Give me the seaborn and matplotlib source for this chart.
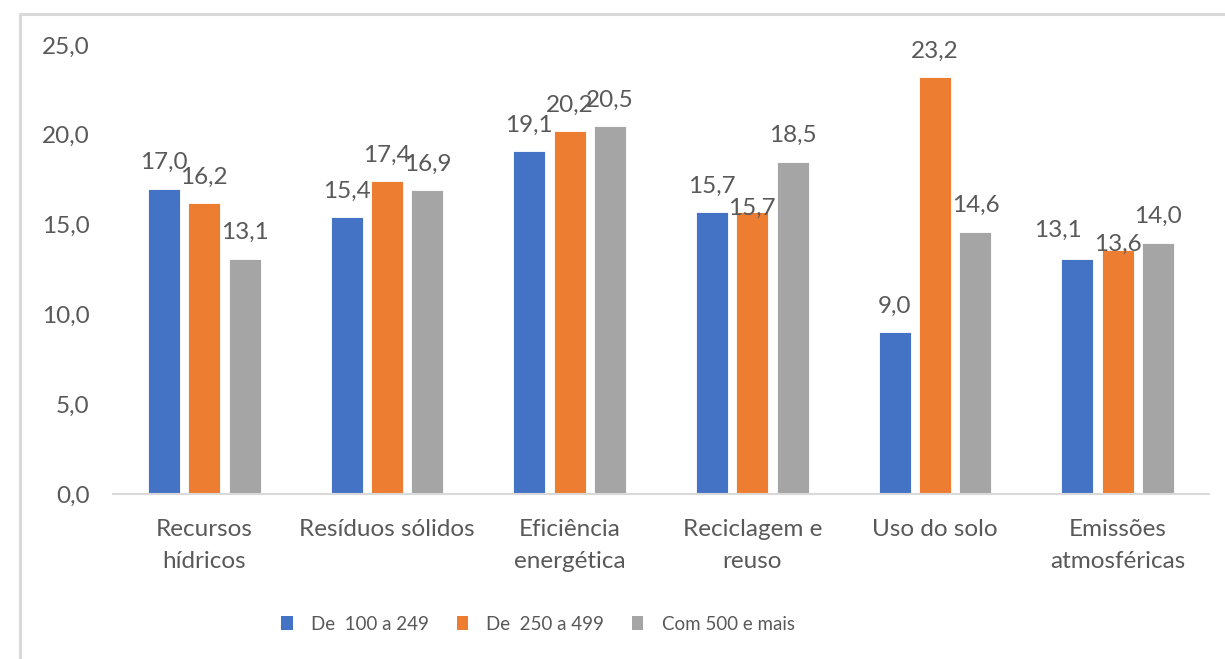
import matplotlib
matplotlib.use("Agg")
import matplotlib.pyplot as plt
from matplotlib.patches import Patch
from matplotlib.lines import Line2D
import seaborn as sns
import pandas as pd

categories = ["Recursos\nhídricos", "Resíduos sólidos", "Eficiência\nenergética",
              "Reciclagem e\nreuso", "Uso do solo", "Emissões\natmosféricas"]
series_names = ["De  100 a 249", "De  250 a 499", "Com 500 e mais"]
de_100_249 = [17.0, 15.4, 19.1, 15.7, 9.0, 13.1]
de_250_499 = [16.2, 17.4, 20.2, 15.7, 23.2, 13.6]
com_500_mais = [13.1, 16.9, 20.5, 18.5, 14.6, 14.0]
y_ticks = [0, 5, 10, 15, 20, 25]

colors = ["#4472C4", "#ED7D31", "#A5A5A5"]
text_color = "#595959"
line_color = "#D9D9D9"

rows = []
for name, vals in zip(series_names, [de_100_249, de_250_499, com_500_mais]):
    for cat, v in zip(categories, vals):
        rows.append({"categoria": cat, "porte": name, "valor": v})
df = pd.DataFrame(rows)

sns.set_theme(style="white")
plt.rcParams["font.family"] = ["Lato", "DejaVu Sans"]

fig = plt.figure(figsize=(12.25, 6.59), dpi=100)
ax = fig.add_axes([113 / 1225, 1 - 494 / 659, (1209 - 113) / 1225, (494 - 45) / 659])

sns.barplot(data=df, x="categoria", y="valor", hue="porte", order=categories,
            hue_order=series_names, palette=colors, width=0.665, gap=0.21,
            saturation=1, edgecolor="white", linewidth=0.6, legend=False, ax=ax)

ax.set_xlim(-0.5, len(categories) - 0.5)
ax.set_ylim(0, 25)
ax.set_yticks(y_ticks)
ax.set_yticklabels([f"{t:.1f}".replace(".", ",") for t in y_ticks])
ax.set_xlabel("")
ax.set_ylabel("")
for s in ["top", "right", "left"]:
    ax.spines[s].set_visible(False)
ax.spines["bottom"].set_color(line_color)
ax.spines["bottom"].set_linewidth(1.5)
ax.tick_params(axis="both", length=0, colors=text_color, labelsize=17.5)
ax.tick_params(axis="y", pad=17)
ax.tick_params(axis="x", pad=18)
for lbl in ax.get_xticklabels():
    lbl.set_linespacing(1.65)

# data labels sit above each bar; a few are shifted so crowded ones stay readable
default_offset = (0, 14)
label_offsets = {(3, 1): (0, -2.2), (5, 0): (-13.7, 15.8), (5, 1): (0, -0.7)}
for s_idx, (container, vals) in enumerate(zip(ax.containers, [de_100_249, de_250_499, com_500_mais])):
    for c_idx, (patch, v) in enumerate(zip(container.patches, vals)):
        ax.annotate(f"{v:.1f}".replace(".", ","),
                    xy=(patch.get_x() + patch.get_width() / 2, v),
                    xytext=label_offsets.get((c_idx, s_idx), default_offset),
                    textcoords="offset points",
                    ha="center", va="baseline", fontsize=17.5, color=text_color)

handles = [Patch(facecolor=c, edgecolor="none") for c in colors]
fig.legend(handles, series_names, loc="center", bbox_to_anchor=(538 / 1225, 1 - 624 / 659),
           ncol=3, frameon=False, fontsize=13.5, handlelength=0.6, handleheight=0.78,
           handletextpad=1.0, columnspacing=1.45, labelcolor=text_color)

# chart frame (top and left edges)
fig.add_artist(Line2D([19.5 / 1225, 19.5 / 1225, 1.0], [0.0, 1 - 13.5 / 659, 1 - 13.5 / 659],
                      transform=fig.transFigure, color=line_color, linewidth=2.2))

fig.savefig("out.png", dpi=100)
